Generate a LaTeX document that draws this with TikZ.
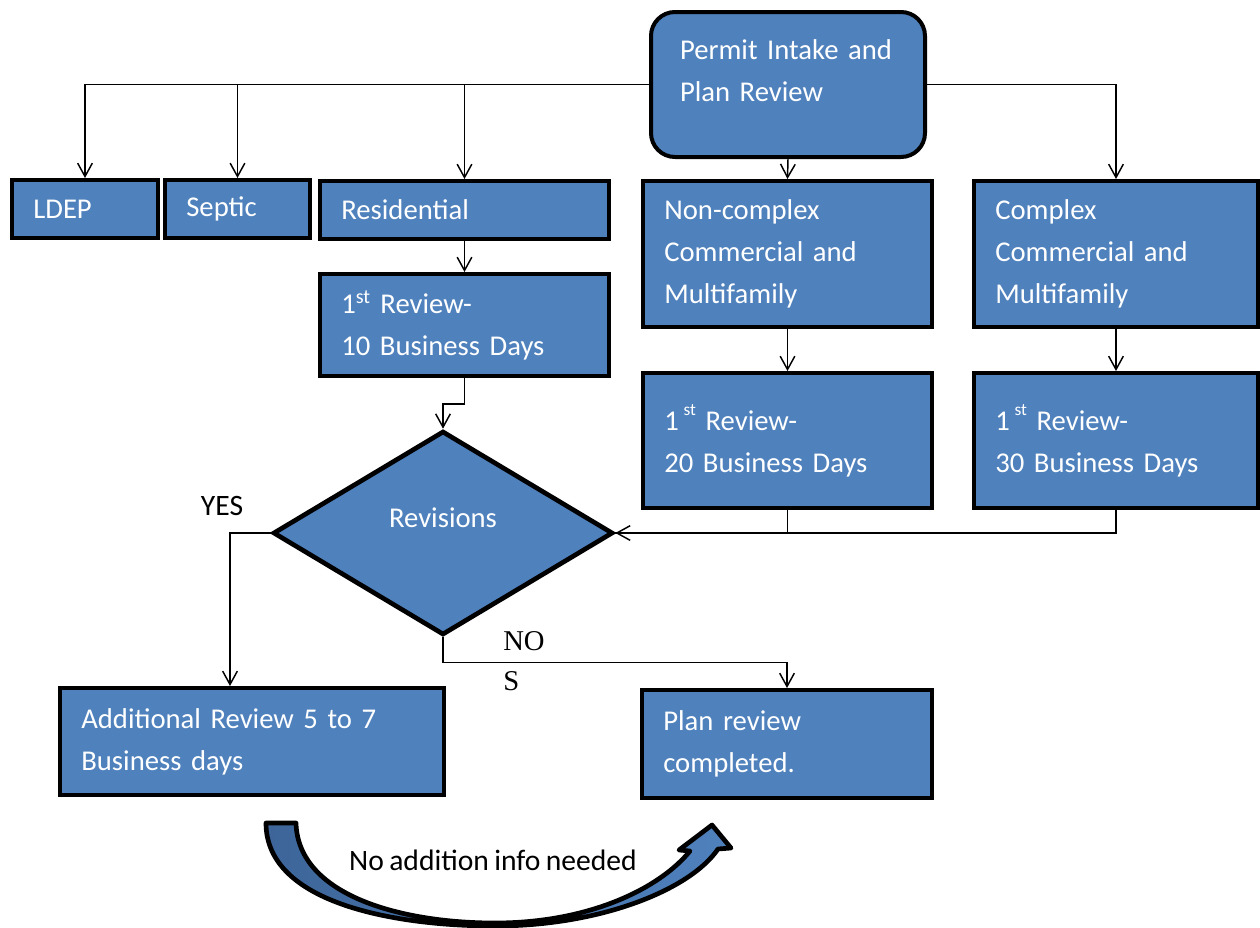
\documentclass[tikz,border=0pt]{standalone}
\usepackage{fontspec}
\setmainfont{Carlito}[WordSpace=0.8]
\newfontfamily\serifrm{Liberation Serif}
\usetikzlibrary{shapes.geometric,arrows.meta}
\definecolor{BOXBLUE}{HTML}{4F81BD}
\definecolor{TAILBLUE}{HTML}{3D6599}

\begin{document}
\begin{tikzpicture}[x=0.75pt, y=-0.75pt,
	box/.style={draw, black, line width=3pt, fill=BOXBLUE, text=white, align=left, inner xsep=16pt, font=\fontsize{21.5}{31.5}\selectfont},
	conn/.style={draw, line width=1.1pt, -{Straight Barb[length=10pt, width=11pt]}},
	lbl/.style={black, font=\fontsize{22.2}{30}\selectfont}]
				\useasboundingbox (0,0) rectangle (1260,928);

				\node [box, rounded corners=18pt, inner xsep=21.75pt, text width=162pt, minimum height=108.75pt] (intake) at (788,84.5) {Permit Intake and\\Plan Review\\[-11pt]\mbox{}};

				\node [box, text width=77.5pt, minimum height=43.5pt]   (ldep)    at (85,209)    {LDEP};
				\node [box, text width=76.75pt, minimum height=43.5pt]  (septic)  at (237.5,209) {Septic};
				\node [box, text width=184.75pt, minimum height=43.5pt] (resid)   at (464.5,210) {Residential};
				\node [box, text width=184.75pt, minimum height=109.5pt] (noncplx) at (787.5,254) {Non-complex\\Commercial and\\Multifamily};
				\node [box, text width=181pt, minimum height=109.5pt]    (cplx)    at (1116,254)  {Complex\\Commercial and\\Multifamily};

				\node [box, text width=184.75pt, minimum height=76.5pt]  (resrev)  at (464.5,325)  {1\textsuperscript{st} Review-\\10 Business Days};
				\node [box, text width=184.75pt, minimum height=101.25pt] (rev20)  at (787.5,440.5) {1\,\raisebox{1.1ex}{\fontsize{13}{13}\selectfont st}\ Review-\\20 Business Days};
				\node [box, text width=181pt, minimum height=101.25pt]    (rev30)  at (1116,440.5)  {1\,\raisebox{1.1ex}{\fontsize{13}{13}\selectfont st}\ Review-\\30 Business Days};

				\node [box, diamond, align=center, inner sep=0pt, aspect=1.667, minimum width=255pt, minimum height=153pt, line width=3.5pt] (revisions) at (443,533) {Revisions\\[-9pt]\mbox{}};

				\node [box, text width=256pt, minimum height=80.25pt]   (addl) at (252,741.5) {Additional Review 5 to 7\\Business days};
				\node [box, text width=185.5pt, minimum height=81pt]    (done) at (787,744)   {Plan review\\completed.};

				% branches from the intake box
				\draw [conn] (intake.west) -| (ldep.north);
				\draw [conn] (intake.west) -| (septic.north);
				\draw [conn] (intake.west) -| (resid.north);
				\draw [conn] (intake.south) -- (noncplx.north);
				\draw [conn] (intake.east) -| (cplx.north);

				\draw [conn] (resid.south) -- (resrev.north);
				\draw [conn] (noncplx.south) -- (rev20.north);
				\draw [conn] (cplx.south) -- (rev30.north);

				\draw [conn] (resrev.south) -- ++(0,26) -| (revisions.north);
				\draw [line width=1.1pt] (rev30.south) |- (revisions.east);
				\draw [conn] (rev20.south) |- (revisions.east);

				% decision outcomes
				\draw [conn] (revisions.west) -| ([xshift=-16.5pt]addl.north);
				\draw [conn] (revisions.south) -- ++(0,25) -| (done.north);
				\node [lbl] (yes) at (222,506) {YES};
				\node [lbl, font=\serifrm\fontsize{21.5}{30}\selectfont, align=left, anchor=north west, inner sep=0pt] (nos) at (503,631) {NO\\S};

				% curved block arrow
				\draw [line width=3.5pt, line join=round, left color=TAILBLUE, right color=BOXBLUE]
					(266,823) .. controls (266,905) and (400,926) .. (495,926)
					.. controls (600,926) and (690,890) .. (718,849)
					-- (731,848) -- (712,825) -- (679,850) -- (690,851)
					.. controls (660,888) and (590,923) .. (495,923)
					.. controls (400,923) and (298,895) .. (296,823) -- cycle;
				\node [lbl] (noinfo) at (493,860) {No addition info needed};
			\end{tikzpicture}
\end{document}
